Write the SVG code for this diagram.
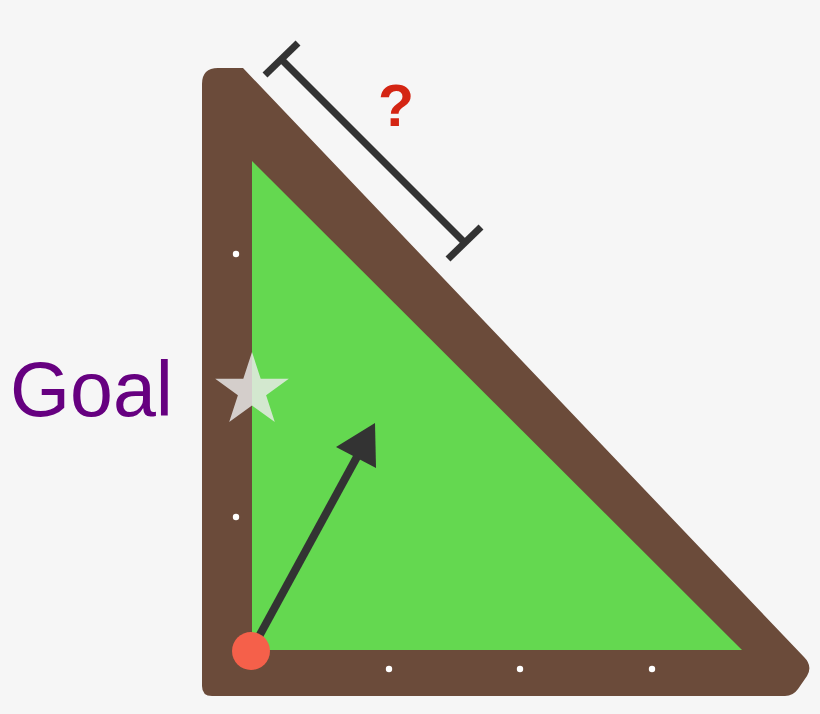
<svg xmlns="http://www.w3.org/2000/svg" width="820" height="714" viewBox="0 0 820 714">
<style>
.dot{fill:#ffffff}
.dark{stroke:#333333;stroke-width:7;fill:none;stroke-linecap:butt}
.lbl{font-family:"Liberation Sans",Arial,sans-serif}
</style>
<rect x="0" y="0" width="820" height="714" fill="#f6f6f6"/>
<g id="table">
<path d="M 202,84 Q 202,68 218,68 L 243,68 L 804,657 Q 813,666 807,676 L 798,689 Q 793,696 785,696 L 212,696 Q 202,696 202,686 Z" fill="#6b4b3a"/>
<path d="M 252,161 L 252,650 L 742,650 Z" fill="#64d850"/>
<circle class="dot" cx="236" cy="254" r="3.2"/>
<circle class="dot" cx="236" cy="517" r="3.2"/>
<circle class="dot" cx="389" cy="669" r="3.2"/>
<circle class="dot" cx="520" cy="669" r="3.2"/>
<circle class="dot" cx="652" cy="669" r="3.2"/>
</g>
<g id="goal">
<polygon points="252,352 260.7,378.7 288.8,378.7 266.1,395.2 274.8,422 252,405.5 229.2,422 237.9,395.2 215.2,378.7 243.3,378.7" fill="#ececec" fill-opacity="0.82"/>
<text class="lbl" x="10" y="416" font-size="77" fill="#660080" textLength="163" lengthAdjust="spacingAndGlyphs">Goal</text>
</g>
<g id="dimension">
<line class="dark" x1="281" y1="59" x2="465" y2="243"/>
<line class="dark" x1="265" y1="75" x2="298" y2="43"/>
<line class="dark" x1="448" y1="259" x2="481" y2="227"/>
<text class="lbl" x="396" y="126" font-size="59" font-weight="bold" fill="#d42513" text-anchor="middle">?</text>
</g>
<g id="connectors">
<line x1="251" y1="651" x2="358" y2="455" stroke="#333333" stroke-width="8"/>
<polygon points="375,423 336,447 376,468" fill="#333333"/>
</g>
<g id="ball">
<circle cx="251" cy="651" r="19" fill="#f5604a"/>
</g>
</svg>
